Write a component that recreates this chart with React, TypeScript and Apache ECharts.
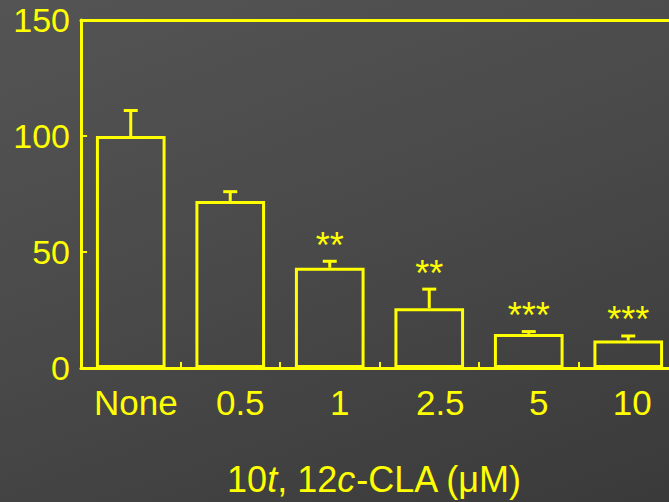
import React, { useEffect, useRef } from "react";
import * as echarts from "echarts";

const categories = ["None", "0.5", "1", "2.5", "5", "10"];
const means = [100, 72, 43.2, 25.8, 14.7, 11.8];
const errorTops = [111, 76, 46, 34, 15.7, 13.8];
const significance = ["", "", "**", "**", "***", "***"];
const yTicks = { min: 0, max: 150, interval: 50 };

const YELLOW = "#ffff00";
const FONT = "'Liberation Sans', Arial, Helvetica, sans-serif";
// horizontal nudge of each category label (px, to the right)
const labelShift = [5, 10, 10, 11, 10, 4];

export default function App() {
  const ref = useRef<HTMLDivElement>(null);

  useEffect(() => {
    if (!ref.current) return;
    const chart = echarts.init(ref.current, undefined, { renderer: "svg" });
    const rich: any = {};
    labelShift.forEach((s, i) => {
      rich["s" + i] = {
        color: YELLOW,
        fontSize: 35,
        fontFamily: FONT,
        padding: [0, 0, 0, s * 2],
      };
    });
    const option: any = {
      animation: false,
      backgroundColor: "transparent",
      textStyle: { fontFamily: FONT },
      grid: { left: 81, top: 20, right: 2, height: 351 },
      xAxis: [
        {
          type: "category",
          data: categories,
          position: "bottom",
          axisLine: { show: true, lineStyle: { color: YELLOW, width: 3 } },
          axisTick: { show: true, inside: true, length: 6, lineStyle: { color: YELLOW, width: 2 } },
          axisLabel: {
            color: YELLOW,
            fontSize: 35,
            fontFamily: FONT,
            margin: 17,
            interval: 0,
            formatter: (v: string, i: number) => `{s${i}|${v}}`,
            rich,
          },
          name: "{n|10}{i|t}{n|, 12}{i|c}{n|-CLA (μM)}",
          nameLocation: "middle",
          nameGap: 93,
          nameTextStyle: {
            padding: [0, 10, 0, 0],
            rich: {
              n: { color: YELLOW, fontSize: 36, fontFamily: FONT },
              i: { color: YELLOW, fontSize: 36, fontFamily: FONT, fontStyle: "italic" },
            },
          },
        },
        {
          type: "category",
          data: categories,
          position: "top",
          axisLine: { show: true, lineStyle: { color: YELLOW, width: 3 } },
          axisTick: { show: false },
          axisLabel: { show: false },
        },
      ],
      yAxis: {
        type: "value",
        min: yTicks.min,
        max: yTicks.max,
        interval: yTicks.interval,
        axisLine: { show: true, lineStyle: { color: YELLOW, width: 3 } },
        axisTick: { show: true, inside: true, length: 6, lineStyle: { color: YELLOW, width: 2 } },
        axisLabel: { color: YELLOW, fontSize: 34, fontFamily: FONT, margin: 11 },
        splitLine: { show: false },
      },
      series: [
        {
          type: "bar",
          data: means,
          barWidth: "70%",
          itemStyle: { color: "transparent", borderColor: YELLOW, borderWidth: 3 },
          z: 3,
        },
        {
          type: "custom",
          data: means.map((m, i) => [i, m, errorTops[i]]),
          z: 4,
          renderItem: (params: any, api: any) => {
            const i = api.value(0);
            const base = api.coord([i, api.value(1)]);
            const top = api.coord([i, api.value(2)]);
            const cap = 7;
            const label = significance[i];
            const children: any[] = [
              {
                type: "line",
                shape: { x1: base[0], y1: base[1], x2: top[0], y2: top[1] },
                style: { stroke: YELLOW, lineWidth: 3 },
              },
              {
                type: "line",
                shape: { x1: top[0] - cap, y1: top[1], x2: top[0] + cap, y2: top[1] },
                style: { stroke: YELLOW, lineWidth: 3 },
              },
            ];
            if (label) {
              children.push({
                type: "text",
                style: {
                  x: top[0],
                  y: top[1] - 16,
                  text: label,
                  fill: YELLOW,
                  font: `36px ${FONT}`,
                  align: "center",
                  verticalAlign: "middle",
                },
              });
            }
            return { type: "group", children };
          },
        },
      ],
    };
    chart.setOption(option);
    return () => chart.dispose();
  }, []);

  return (
    <div
      style={{
        position: "absolute",
        left: 0,
        top: 0,
        width: 669,
        height: 502,
        background: "linear-gradient(160deg, #545454 0%, #4a4a4a 45%, #3a3a3a 100%)",
        overflow: "hidden",
      }}
    >
      <div ref={ref} style={{ width: 680, height: 502 }} />
    </div>
  );
}
